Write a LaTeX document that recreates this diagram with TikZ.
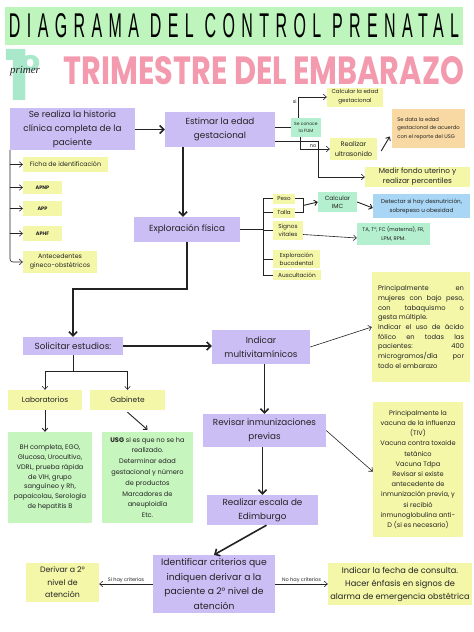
\documentclass[tikz,border=0pt]{standalone}
\usepackage{graphicx}
\usepackage{fontspec}
\setmainfont{Poppins}
\newfontfamily\titlefont{Liberation Sans}[LetterSpace=40]
\newfontfamily\myscript{Liberation Serif}
\usetikzlibrary{arrows.meta,calc}
\definecolor{purp}{RGB}{203,190,245}
\definecolor{yel}{RGB}{244,247,168}
\definecolor{grn}{RGB}{198,245,190}
\definecolor{mint}{RGB}{180,240,207}
\definecolor{peach}{RGB}{248,217,164}
\definecolor{blu}{RGB}{169,214,245}
\definecolor{tgreen}{RGB}{189,245,189}
\definecolor{pink}{RGB}{244,154,174}
\definecolor{onemint}{RGB}{170,232,204}
\definecolor{ink}{RGB}{35,35,35}
\newcommand{\fsz}[2]{\fontsize{#1}{#2}\selectfont}
\begin{document}
\begin{tikzpicture}[x=1pt,y=-1pt,
  box/.style={inner sep=1pt, align=center, text=ink},
  pbox/.style={box, fill=purp, font=\fsz{8.8}{14}},
  ybox/.style={box, fill=yel},
  thk/.style={line width=1.6pt, ink, -{Straight Barb[length=4pt,width=8pt]}},
  thn/.style={line width=0.6pt, ink, -{Straight Barb[length=3pt,width=5.5pt]}},
  pln/.style={line width=0.6pt, ink},
  lbl/.style={font=\fsz{5}{6}, text=ink, inner sep=1pt}]
\useasboundingbox (0,0) rectangle (474,632);
\fill[white] (0,0) rectangle (474,632);

% ---------- title ----------
\node[fill=tgreen, minimum width=458pt, minimum height=38pt, inner sep=0pt] (title) at (234,26)
  {\resizebox{450pt}{24pt}{\titlefont DIAGRAMA DEL CONTROL PRENATAL}};
\node[text=onemint, font=\fsz{70}{70}\bfseries, inner sep=0pt, anchor=south west] (one) at (4,101)
  {1\kern-10pt\raisebox{14pt}{\fsz{44}{44}°}};
\node[text=ink, font=\myscript\itshape\fsz{11}{11}, inner sep=0pt] (primer) at (25,71) {primer};
\node[text=pink, inner sep=0pt] (tri) at (264,71)
  {\resizebox{400pt}{28pt}{\bfseries TRIMESTRE DEL EMBARAZO}};

% ---------- historia ----------
\node[pbox, minimum width=125pt, minimum height=42pt] (hist) at (72.5,129) {Se realiza la historia\\clínica completa de la\\paciente};
\node[ybox, minimum width=85pt, minimum height=15pt, font=\fsz{6.3}{8}] (ficha) at (65.5,164.5) {Ficha de identificación};
\node[ybox, minimum width=39pt, minimum height=13pt, font=\fsz{5}{6}\bfseries] (apnp) at (42.5,187.5) {APNP};
\node[ybox, minimum width=39pt, minimum height=15pt, font=\fsz{5}{6}\bfseries] (app) at (42.5,208.5) {APP};
\node[ybox, minimum width=39pt, minimum height=15pt, font=\fsz{5}{6}\bfseries] (aphf) at (42.5,233.5) {APHF};
\node[ybox, minimum width=74pt, minimum height=22pt, font=\fsz{6.3}{9}] (antec) at (60,262) {Antecedentes\\gineco-obstétricos};

\coordinate (hl) at (10,150);
\draw[thn, rounded corners=3pt] (hl) |- (antec.west);
\foreach \n in {ficha,apnp,app,aphf} \draw[thn] (\n.west -| hl) -- (\n.west);

% ---------- estimar ----------
\node[pbox, minimum width=110pt, minimum height=35pt] (estim) at (220,129.5) {Estimar la edad\\gestacional};
\node[box, fill=mint, minimum width=30pt, minimum height=19pt, font=\fsz{4.5}{6.5}] (fum) at (306,127.5) {Se conoce\\la FUM};
\node[ybox, minimum width=56pt, minimum height=19pt, font=\fsz{5.6}{9}] (calc) at (355,97) {Calcular la edad\\gestacional};
\node[ybox, minimum width=47pt, minimum height=22pt, font=\fsz{6.6}{10}] (ultra) at (353.5,149) {Realizar\\ultrasonido};
\node[box, fill=peach, minimum width=73pt, minimum height=39pt, align=left, font=\fsz{5.2}{8.3}] (sedata) at (428.5,128.5) {Se data la edad\\gestacional de acuerdo\\con el reporte del USG};
\node[ybox, minimum width=105pt, minimum height=20pt, font=\fsz{7.3}{10}] (medir) at (417.5,177) {Medir fondo uterino y\\realizar percentiles};

\draw[thk] (hist.east |- estim.west) -- (estim.west);
\draw[pln] (fum.west -| estim.east) -- (fum.west);
\draw[thn] ($(fum.north)+(-8,0)$) |- node[lbl, pos=0.4, left] {si} (calc.west);
\draw[thn] ($(fum.south)+(-6,0)$) |- node[lbl, pos=0.72, above] {no} (ultra.west);
\coordinate (c1) at (318,141);
\draw[thn] (estim.east |- c1) -- (c1) |- (medir.west);
\draw[thn, line width=0.9pt] ($(ultra.east)+(4,2)$) -- ($(sedata.west)+(-2,8)$);

% ---------- exploracion ----------
\node[pbox, minimum width=106pt, minimum height=25pt] (explor) at (187,229.5) {Exploración física};
\coordinate (ex) at (183,0);
\draw[thk] (estim.south -| ex) -- (explor.north -| ex);

\node[ybox, minimum width=22pt, minimum height=10pt, font=\fsz{5.6}{7}] (peso) at (284,198.5) {Peso};
\node[ybox, minimum width=22pt, minimum height=10pt, font=\fsz{5.6}{7}] (talla) at (284,212.5) {Talla};
\node[ybox, minimum width=30pt, minimum height=19pt, font=\fsz{5.8}{8}] (signos) at (288,230.5) {Signos\\vitales};
\node[ybox, minimum width=47pt, minimum height=18pt, font=\fsz{5.8}{8}] (buco) at (296.5,259) {Exploración\\bucodental};
\node[ybox, minimum width=48pt, minimum height=10pt, font=\fsz{5.8}{7}] (ausc) at (297,275) {Auscultación};
\node[box, fill=mint, minimum width=39pt, minimum height=20pt, font=\fsz{6}{8}] (imc) at (337.5,202) {Calcular\\IMC};
\node[box, fill=blu, minimum width=97pt, minimum height=24pt, font=\fsz{5.7}{9}] (detect) at (421.5,206) {Detectar si hay desnutrición,\\sobrepeso u obesidad};
\node[box, fill=mint, minimum width=73pt, minimum height=22pt, font=\fsz{5.3}{9}] (ta) at (393.5,234) {TA, T°, FC (materna), FR,\\LPM, RPM.};

\coordinate (br) at (263,229.5);
\draw[pln] (explor.east) -- (explor.east -| br);
\draw[pln] (peso.west -| br) -- (ausc.west -| br);
\foreach \n in {peso,talla,signos,buco,ausc} \draw[pln] (\n.west -| br) -- (\n.west);
\draw[pln] (peso.east) -- ++(8,0) |- (talla.east);
\draw[thn, line width=0.9pt] ($(peso.east)!0.5!(talla.east)+(8,0)$) -- (imc.west);
\draw[thn, line width=0.9pt] (imc.east) -- ($(detect.west)+(0,2)$);
\draw[thn] ($(signos.east)+(0,4)$) -- ($(ta.west)+(0,4)$);

% ---------- solicitar ----------
\node[pbox, minimum width=100pt, minimum height=18pt] (solic) at (73,346) {Solicitar estudios:};
\node[pbox, minimum width=98pt, minimum height=34pt] (indic) at (261,347) {Indicar\\multivitamínicos};
\node[ybox, minimum width=98pt, minimum height=110pt, align=left, font=\fsz{6.7}{9.7}] (princ) at (421,327)
  {\makebox[86pt][s]{Principalmente en}\\
   \makebox[86pt][s]{mujeres con bajo peso,}\\
   \makebox[86pt][s]{con tabaquismo o}\\
   gesta múltiple.\\
   \makebox[86pt][s]{Indicar el uso de ácido}\\
   \makebox[86pt][s]{fólico en todas las}\\
   \makebox[86pt][s]{pacientes: 400}\\
   \makebox[86pt][s]{microgramos/día por}\\
   todo el embarazo};

\coordinate (c2) at (187,289);
\draw[thk] (explor.south) -- (explor.south |- c2) -| (solic.north);
\draw[thk] (solic.east) -- (indic.west |- solic.east);
\draw[thn] (indic.east) -- (princ.west);

\node[ybox, minimum width=74pt, minimum height=20pt, font=\fsz{7.4}{9}] (lab) at (45,400) {Laboratorios};
\node[ybox, minimum width=75pt, minimum height=20pt, font=\fsz{7.4}{9}] (gab) at (127.5,400) {Gabinete};
\node[box, fill=grn, minimum width=84pt, minimum height=91pt, font=\fsz{6.6}{9.7}] (labl) at (50,477.5)
  {BH completa, EGO,\\Glucosa, Urocultivo,\\VDRL, prueba rápida\\de VIH, grupo\\sanguíneo y Rh,\\papaicolau, Serología\\de hepatitis B};
\node[box, fill=grn, minimum width=91pt, minimum height=91pt, font=\fsz{6.6}{10.8}] (gabl) at (147.5,477.5)
  {\textbf{USG} si es que no se ha\\realizado.\\Determinar edad\\gestacional y número\\de productos\\Marcadores de\\aneuploidía\\Etc.};

\coordinate (c3) at (0,371);
\draw[pln] (solic.south) -- (solic.south |- c3);
\draw[pln] (lab.north |- c3) -- (gab.north |- c3);
\draw[thn] (lab.north |- c3) -- (lab.north);
\draw[thn] (gab.north |- c3) -- (gab.north);
\draw[thn, line width=0.9pt] (lab.south) -- (lab.south |- labl.north);
\draw[thn, line width=0.9pt] ($(gab.south)+(0,2)$) -- ($(gabl.north)+(0,-2)$);

% ---------- revisar ----------
\node[pbox, minimum width=123pt, minimum height=33pt] (revis) at (264.5,430.5) {Revisar inmunizaciones\\previas};
\node[pbox, minimum width=111pt, minimum height=30pt] (escala) at (262.5,510) {Realizar escala de\\Edimburgo};
\node[ybox, minimum width=90pt, minimum height=135pt, font=\fsz{6.6}{10.2}] (vac) at (418,469.5)
  {Principalmente la\\vacuna de la influenza\\(TIV)\\Vacuna contra toxoide\\tetánico\\Vacuna Tdpa\\Revisar si existe\\antecedente de\\inmunización previa, y\\si recibió\\inmunoglobulina anti-\\D (si es necesario)};

\draw[thk] (indic.south -| revis.north) -- (revis.north);
\draw[thk] (revis.south -| escala.north) -- (escala.north);
\draw[thn] (revis.east) -- ($(vac.west)+(0,2)$);

% ---------- identificar ----------
\node[pbox, minimum width=122pt, minimum height=58pt, font=\fsz{9.2}{14.5}] (ident) at (214,584) {Identificar criterios que\\indiquen derivar a la\\paciente a 2° nivel de\\atención};
\node[ybox, minimum width=73pt, minimum height=39pt, font=\fsz{7.8}{12.5}] (deriv) at (62.5,582.5) {Derivar a 2°\\nivel de\\atención};
\node[ybox, minimum width=144pt, minimum height=42pt, font=\fsz{8.2}{13}] (fecha) at (400,584) {Indicar la fecha de consulta.\\Hacer énfasis en signos de\\alarma de emergencia obstétrica};

\draw[thk] ($(escala.south)+(4,0)$) -- (ident.north);
\draw[thn] (ident.west) -- node[lbl, above] {Si hay criterios} (ident.west -| deriv.east);
\draw[thn] (ident.east) -- node[lbl, above] {No hay criterios} (ident.east -| fecha.west);
\end{tikzpicture}
\end{document}
